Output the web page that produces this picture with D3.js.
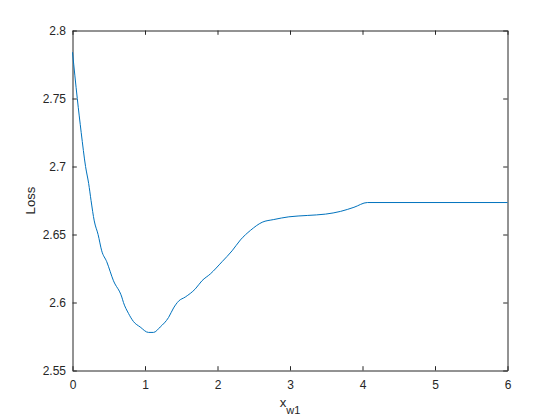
<!DOCTYPE html>
<html>
<head>
<meta charset="utf-8">
<script src="https://cdn.jsdelivr.net/npm/d3@7"></script>
<style>
  body { margin: 0; background: #fff; }
  svg { display: block; }
  .tick text { font-family: "Liberation Sans", Arial, sans-serif; font-size: 12px; fill: #262626; }
</style>
</head>
<body>
<svg width="560" height="420"></svg>
<script>
// loss curve
var xw1 = [0, 0.066, 0.12, 0.18, 0.223, 0.256, 0.30, 0.353, 0.403, 0.472, 0.565, 0.680, 0.703,
           0.772, 0.841, 0.933, 1.048, 1.117, 1.21, 1.325, 1.394, 1.463, 1.555, 1.694, 1.786,
           1.901, 2.063, 2.201, 2.316, 2.454, 2.616, 2.776, 2.984, 3.238, 3.491, 3.698, 3.882,
           4.067, 6];
var loss = [2.784, 2.75, 2.725, 2.70, 2.6875, 2.675, 2.66, 2.65, 2.638, 2.630, 2.616, 2.604, 2.600,
            2.592, 2.586, 2.582, 2.578, 2.578, 2.582, 2.589, 2.596, 2.601, 2.604, 2.610, 2.616,
            2.621, 2.630, 2.638, 2.646, 2.653, 2.659, 2.661, 2.663, 2.664, 2.665, 2.667, 2.670,
            2.6735, 2.6735];
var xTicks = [0, 1, 2, 3, 4, 5, 6];
var yTicks = [2.55, 2.6, 2.65, 2.7, 2.75, 2.8];

var mLeft = 72.5, mRight = 507.5, mTop = 30.5, mBottom = 370.5;
var svg = d3.select("svg");

var x = d3.scaleLinear().domain([0, 6]).range([mLeft, mRight]);
var y = d3.scaleLinear().domain([2.55, 2.8]).range([mBottom, mTop]);

var axisColor = "#262626";
var tl = 4.3;

function styleAxis(g) {
    g.selectAll("path.domain").attr("stroke", axisColor).attr("stroke-width", 1);
    g.selectAll(".tick line").attr("stroke", axisColor).attr("stroke-width", 1);
}

// bottom
svg.append("g")
    .attr("transform", "translate(0," + mBottom + ")")
    .call(d3.axisBottom(x).tickValues(xTicks).tickFormat(d3.format("d"))
        .tickSizeInner(-tl).tickSizeOuter(0))
    .call(styleAxis)
    .call(function(g) { g.selectAll("text").attr("y", 10); });

// top
svg.append("g")
    .attr("transform", "translate(0," + mTop + ")")
    .call(d3.axisTop(x).tickValues(xTicks).tickFormat("").tickSizeInner(-tl).tickSizeOuter(0))
    .call(styleAxis);

// left
svg.append("g")
    .attr("transform", "translate(" + mLeft + ",0)")
    .call(d3.axisLeft(y).tickValues(yTicks).tickFormat(function(d) { return String(+d.toFixed(2)); })
        .tickSizeInner(-tl).tickSizeOuter(0))
    .call(styleAxis)
    .call(function(g) { g.selectAll("text").attr("x", -6.5); });

// right
svg.append("g")
    .attr("transform", "translate(" + mRight + ",0)")
    .call(d3.axisRight(y).tickValues(yTicks).tickFormat("").tickSizeInner(-tl).tickSizeOuter(0))
    .call(styleAxis);

var pts = xw1.map(function(d, i) { return [d, loss[i]]; });

var line = d3.line()
    .x(function(d) { return x(d[0]); })
    .y(function(d) { return y(d[1]); })
    .curve(d3.curveMonotoneX);

svg.append("path")
    .datum(pts)
    .attr("fill", "none")
    .attr("stroke", "#0072BD")
    .attr("stroke-width", 1)
    .attr("d", line);

// labels
svg.append("text")
    .attr("transform", "translate(34.5," + ((mTop + mBottom) / 2) + ") rotate(-90)")
    .attr("text-anchor", "middle")
    .style("font-family", "Liberation Sans, Arial, sans-serif")
    .style("font-size", "13.2px")
    .attr("fill", axisColor)
    .text("Loss");

var xl = svg.append("text")
    .attr("x", (mLeft + mRight) / 2)
    .attr("y", 407)
    .attr("text-anchor", "middle")
    .style("font-family", "Liberation Sans, Arial, sans-serif")
    .style("font-size", "13.2px")
    .attr("fill", axisColor);
xl.append("tspan").text("x");
xl.append("tspan").attr("dy", 7).style("font-size", "11px").text("w1");
</script>
</body>
</html>
